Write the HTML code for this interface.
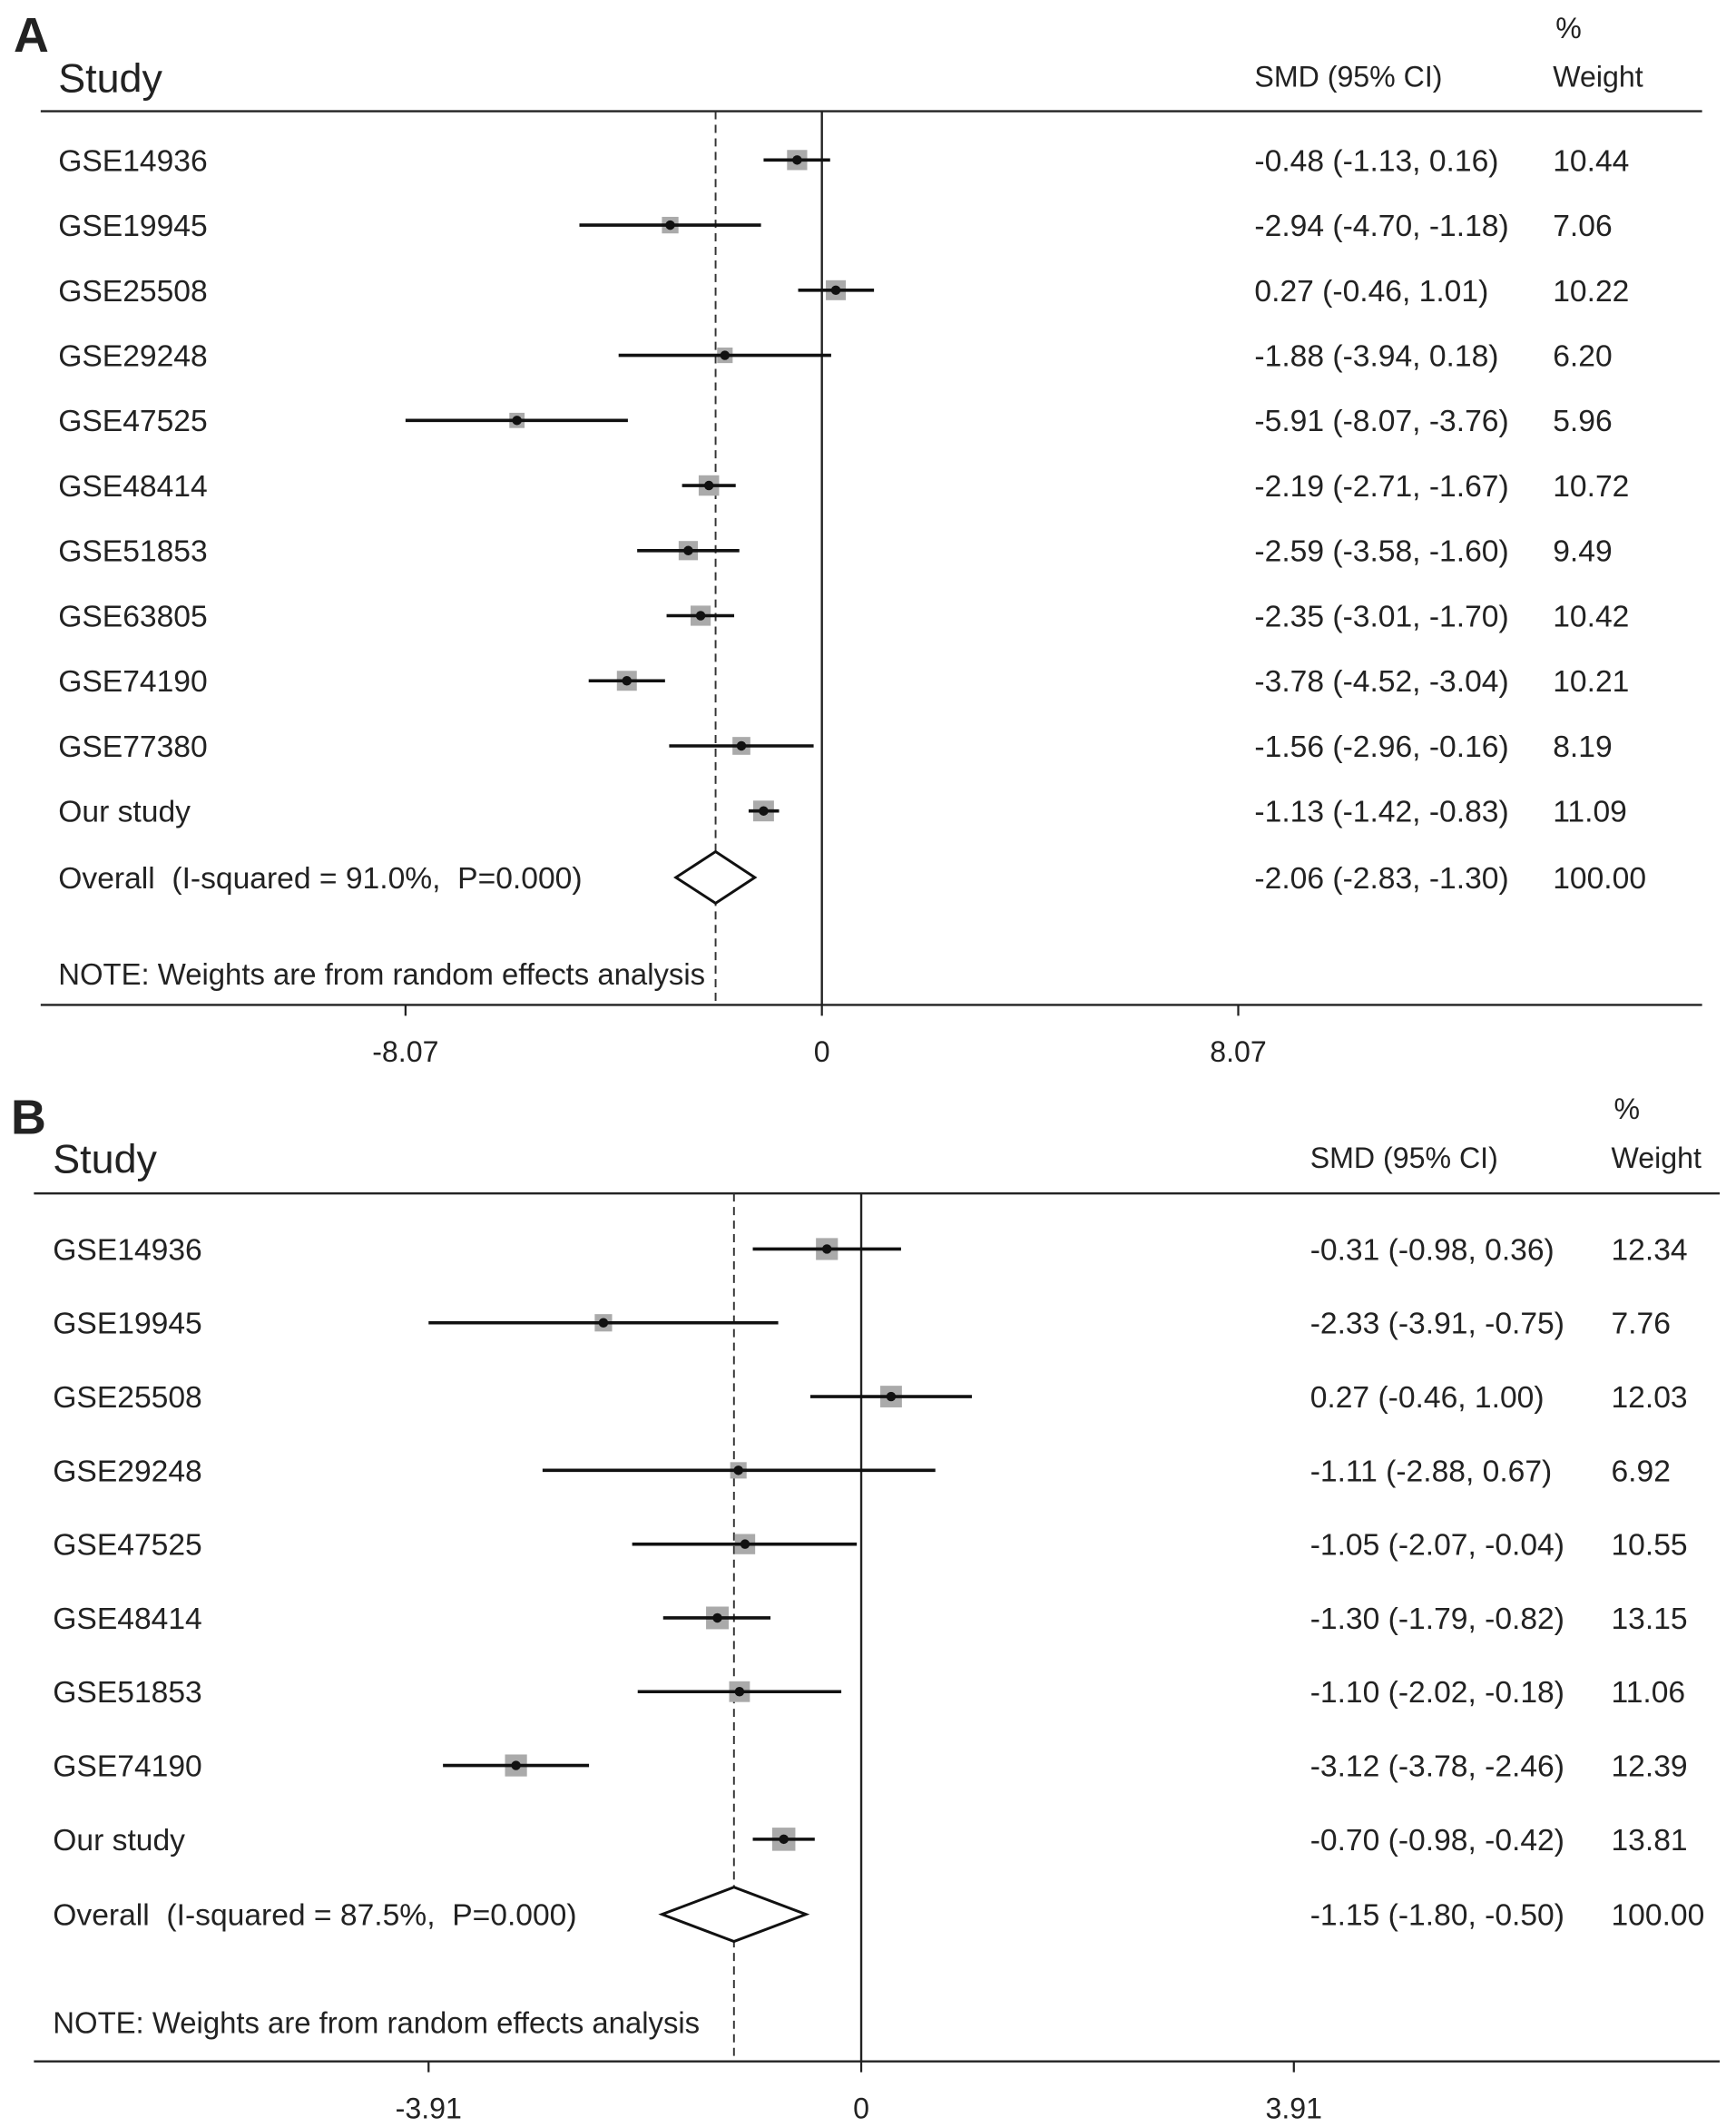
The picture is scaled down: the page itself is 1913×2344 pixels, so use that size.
<!DOCTYPE html>
<html><head><meta charset="utf-8"><style>
html,body{margin:0;padding:0;background:#fff;}
svg{display:block;}
text{font-family:"Liberation Sans",Arial,sans-serif;fill:#222;white-space:pre;}
</style></head><body>
<svg id="chart" width="1913" height="2344" viewBox="0 0 1280 1568.4" preserveAspectRatio="none" xmlns="http://www.w3.org/2000/svg" xml:space="preserve"></svg>
<script>
const studiesA=["GSE14936","GSE19945","GSE25508","GSE29248","GSE47525","GSE48414","GSE51853","GSE63805","GSE74190","GSE77380","Our study"];
const smdA=[-0.48,-2.94,0.27,-1.88,-5.91,-2.19,-2.59,-2.35,-3.78,-1.56,-1.13];
const lowA=[-1.13,-4.70,-0.46,-3.94,-8.07,-2.71,-3.58,-3.01,-4.52,-2.96,-1.42];
const highA=[0.16,-1.18,1.01,0.18,-3.76,-1.67,-1.60,-1.70,-3.04,-0.16,-0.83];
const weightA=[10.44,7.06,10.22,6.20,5.96,10.72,9.49,10.42,10.21,8.19,11.09];
const overallA=[-2.06,-2.83,-1.30];
const overallLabelA="Overall  (I-squared = 91.0%,  P=0.000)";
const ticksA=[-8.07,0,8.07];

const studiesB=["GSE14936","GSE19945","GSE25508","GSE29248","GSE47525","GSE48414","GSE51853","GSE74190","Our study"];
const smdB=[-0.31,-2.33,0.27,-1.11,-1.05,-1.30,-1.10,-3.12,-0.70];
const lowB=[-0.98,-3.91,-0.46,-2.88,-2.07,-1.79,-2.02,-3.78,-0.98];
const highB=[0.36,-0.75,1.00,0.67,-0.04,-0.82,-0.18,-2.46,-0.42];
const weightB=[12.34,7.76,12.03,6.92,10.55,13.15,11.06,12.39,13.81];
const overallB=[-1.15,-1.80,-0.50];
const overallLabelB="Overall  (I-squared = 87.5%,  P=0.000)";
const ticksB=[-3.91,0,3.91];

const svg=document.getElementById('chart');
const NS="http://www.w3.org/2000/svg";
function mk(tag,attrs,txt){const e=document.createElementNS(NS,tag);for(const k in attrs)e.setAttribute(k,attrs[k]);if(txt!==undefined)e.textContent=txt;svg.appendChild(e);return e;}
function f2(v){return v.toFixed(2);}

function panel(cfg){
  const x=v=>cfg.zeroX+v*cfg.pxPerUnit;
  const g=cfg;
  let e;
  e=mk('text',{x:g.letterX,y:g.letterY,'font-size':36,'font-weight':'bold',fill:'#000'},g.letter);
  
  
  e=mk('text',{x:g.labelX,y:g.headY,'font-size':30},'Study');
  
  
  e=mk('text',{x:g.smdX,y:g.headY-4,'font-size':21.5},'SMD (95% CI)');
  
  
  e=mk('text',{x:g.wX+2,y:g.headY-40,'font-size':21.5},'%');
  
  
  e=mk('text',{x:g.wX,y:g.headY-4,'font-size':21.5},'Weight');
  
  
  e=mk('line',{x1:g.lineX1,x2:g.lineX2,y1:g.topY,y2:g.topY,stroke:'#222','stroke-width':1.6});
  
  
  e=mk('line',{x1:g.lineX1,x2:g.lineX2,y1:g.axisY,y2:g.axisY,stroke:'#222','stroke-width':1.6});
  
  
  e=mk('line',{x1:x(0),x2:x(0),y1:g.topY,y2:g.axisY,stroke:'#222','stroke-width':1.6});
  
  
  e=mk('line',{x1:x(g.overall[0]),x2:x(g.overall[0]),y1:g.topY,y2:g.axisY,stroke:'#333','stroke-width':1.3,'stroke-dasharray':'6,4'});
  
  
  g.ticks.forEach(t=>{
    const l=mk('line',{x1:x(t),x2:x(t),y1:g.axisY,y2:g.axisY+8,stroke:'#222','stroke-width':1.5});
    
    
    const tx=mk('text',{x:x(t),y:g.axisY+42,'font-size':21.5,'text-anchor':'middle'},t===0?'0':f2(t));
    
    
  });
  g.studies.forEach((s,i)=>{
    const y=g.row0+i*g.rowH;
    const lab=mk('text',{x:g.labelX,y:y+8,'font-size':22.5},s);
    
    
    const side=4.6*Math.sqrt(g.weight[i]);
    const b=mk('rect',{x:x(g.smd[i])-side/2,y:y-side/2,width:side,height:side,fill:'#aaa'});
    
    
    const ci=mk('line',{x1:x(g.low[i]),x2:x(g.high[i]),y1:y,y2:y,stroke:'#111','stroke-width':2.4});
    
    
    const p=mk('circle',{cx:x(g.smd[i]),cy:y,r:3.5,fill:'#111'});
    
    
    const st=mk('text',{x:g.smdX,y:y+8,'font-size':22.5},f2(g.smd[i])+' ('+f2(g.low[i])+', '+f2(g.high[i])+')');
    
    
    const wt=mk('text',{x:g.wX,y:y+8,'font-size':22.5},f2(g.weight[i]));
    
    
  });
  const oy=g.row0+g.studies.length*g.rowH+1;
  const ov=g.overall;
  e=mk('text',{x:g.labelX,y:oy+8,'font-size':22.5},g.overallLabel);
  
  
  e=mk('polygon',{points:`${x(ov[1])},${oy} ${x(ov[0])},${oy-g.diaH} ${x(ov[2])},${oy} ${x(ov[0])},${oy+g.diaH}`,fill:'#fff',stroke:'#111','stroke-width':2});
  
  
  e=mk('text',{x:g.smdX,y:oy+8,'font-size':22.5},f2(ov[0])+' ('+f2(ov[1])+', '+f2(ov[2])+')');
  
  
  e=mk('text',{x:g.wX,y:oy+8,'font-size':22.5},'100.00');
  
  
  e=mk('text',{x:g.labelX,y:g.noteY,'font-size':22},'NOTE: Weights are from random effects analysis');
  
  
}

panel({id:'a',letter:'A',letterX:10,letterY:38,labelX:43,headY:68,smdX:925,wX:1145,
  lineX1:30,lineX2:1255,topY:82,axisY:741,zeroX:606,pxPerUnit:307/8.07,
  row0:118,rowH:48,diaH:19,noteY:726,studies:studiesA,smd:smdA,low:lowA,high:highA,
  weight:weightA,overall:overallA,overallLabel:overallLabelA,ticks:ticksA});
panel({id:'b',letter:'B',letterX:8,letterY:836,labelX:39,headY:865,smdX:966,wX:1188,
  lineX1:25,lineX2:1268,topY:880,axisY:1520,zeroX:635,pxPerUnit:319/3.91,
  row0:921,rowH:54.4,diaH:20,noteY:1499,studies:studiesB,smd:smdB,low:lowB,high:highB,
  weight:weightB,overall:overallB,overallLabel:overallLabelB,ticks:ticksB});
</script>
</body></html>
